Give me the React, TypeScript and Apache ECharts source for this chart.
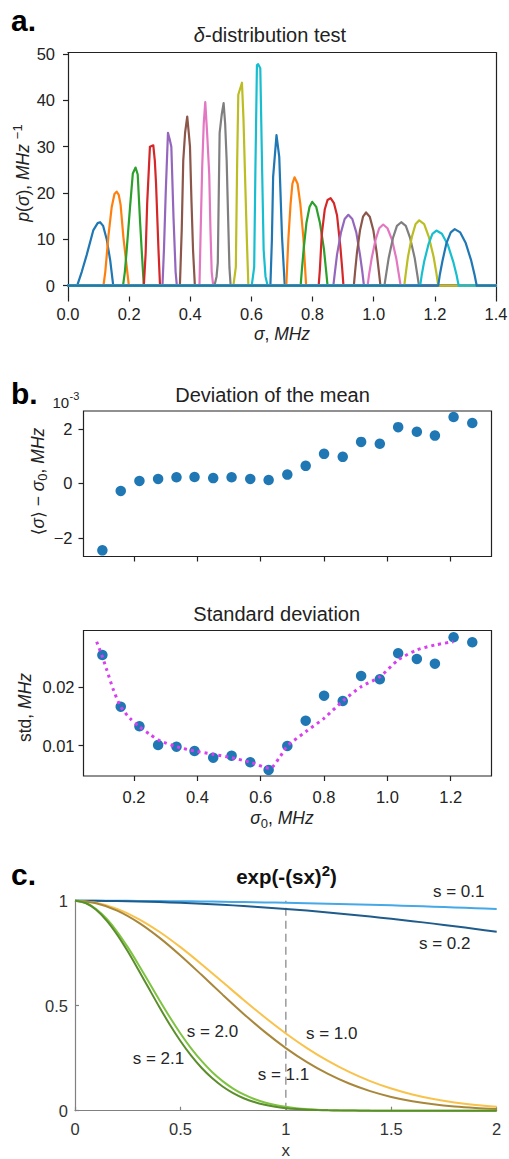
import React, { useEffect, useRef } from "react";
import * as echarts from "echarts";

const FONT = "'Liberation Sans', Arial, 'DejaVu Sans', sans-serif";
const INK = "#222222";
const TAB10 = ["#1f77b4", "#ff7f0e", "#2ca02c", "#d62728", "#9467bd", "#8c564b", "#e377c2", "#7f7f7f", "#bcbd22", "#17becf"];

// ---------- Panel a: delta-distribution test (sigma, density) ----------
const peak01 = [[0.030, 0], [0.045, 3.0], [0.061, 6.6], [0.083, 12.0], [0.097, 13.5], [0.105, 13.7], [0.115, 12.9], [0.127, 9.9], [0.138, 5.5], [0.148, 0]];
const peak02 = [[0.116, 0], [0.122, 3.0], [0.132, 10.6], [0.143, 17.0], [0.152, 19.8], [0.159, 20.3], [0.166, 19.6], [0.172, 17.5], [0.181, 10.6], [0.192, 4.1], [0.199, 0]];
const peak03 = [[0.180, 0], [0.186, 3.0], [0.192, 7.7], [0.203, 17.0], [0.212, 24.2], [0.221, 25.5], [0.228, 24.0], [0.236, 13.5], [0.241, 7.7], [0.248, 0]];
const peak04 = [[0.248, 0], [0.254, 7.0], [0.259, 17.8], [0.268, 30.0], [0.279, 30.3], [0.284, 27.0], [0.288, 22.0], [0.296, 7.7], [0.301, 0]];
const peak05 = [[0.309, 0], [0.314, 8.0], [0.320, 20.7], [0.327, 33.0], [0.333, 31.5], [0.338, 30.0], [0.345, 14.9], [0.352, 3.0], [0.356, 0]];
const peak06 = [[0.366, 0], [0.372, 12.0], [0.377, 27.0], [0.383, 33.0], [0.390, 36.5], [0.395, 33.0], [0.399, 30.0], [0.404, 18.0], [0.409, 7.7], [0.415, 0]];
const peak07 = [[0.430, 0], [0.434, 12.0], [0.439, 25.7], [0.444, 35.0], [0.449, 39.6], [0.455, 33.0], [0.462, 24.0], [0.466, 12.0], [0.470, 3.0], [0.475, 0]];
const peak08 = [[0.479, 0], [0.486, 2.0], [0.490, 5.0], [0.496, 33.0], [0.503, 37.0], [0.509, 39.4], [0.514, 35.0], [0.519, 27.0], [0.524, 14.0], [0.528, 4.0], [0.532, 0]];
const peak09 = [[0.541, 0], [0.549, 4.0], [0.553, 25.0], [0.557, 41.2], [0.569, 43.8], [0.574, 36.0], [0.579, 24.0], [0.585, 10.0], [0.590, 0]];
const peak10 = [[0.601, 0], [0.609, 4.0], [0.613, 25.0], [0.618, 47.6], [0.622, 47.8], [0.629, 46.9], [0.635, 25.0], [0.640, 7.7], [0.646, 2.0], [0.653, 0]];
const peak11 = [[0.662, 0], [0.667, 10.0], [0.671, 23.5], [0.682, 32.5], [0.691, 27.8], [0.700, 10.6], [0.709, 0]];
const peak12 = [[0.714, 0], [0.717, 4.4], [0.721, 10.3], [0.728, 17.6], [0.734, 22.0], [0.741, 23.4], [0.751, 22.0], [0.760, 17.6], [0.770, 10.3], [0.775, 4.4], [0.779, 0]];
const peak13 = [[0.761, 0], [0.765, 3.4], [0.771, 8.0], [0.780, 13.6], [0.790, 17.0], [0.799, 18.1], [0.812, 17.0], [0.824, 13.6], [0.837, 8.0], [0.844, 3.4], [0.849, 0]];
const peak14 = [[0.820, 0], [0.824, 3.6], [0.830, 11.0], [0.840, 16.5], [0.849, 18.5], [0.859, 18.9], [0.870, 17.8], [0.880, 15.2], [0.891, 8.3], [0.897, 3.6], [0.901, 0]];
const peak15 = [[0.868, 0], [0.873, 2.9], [0.880, 6.7], [0.893, 11.5], [0.905, 14.4], [0.917, 15.3], [0.930, 14.4], [0.943, 11.5], [0.955, 6.7], [0.963, 2.9], [0.968, 0]];
const peak16 = [[0.935, 0], [0.939, 3.0], [0.945, 7.0], [0.955, 11.9], [0.965, 14.9], [0.975, 15.8], [0.987, 14.9], [0.999, 11.9], [1.010, 7.0], [1.017, 3.0], [1.022, 0]];
const peak17 = [[0.980, 0], [0.985, 2.5], [0.993, 5.8], [1.006, 9.9], [1.018, 12.4], [1.031, 13.2], [1.045, 12.4], [1.060, 9.9], [1.074, 5.8], [1.082, 2.5], [1.088, 0]];
const peak18 = [[1.035, 0], [1.041, 2.6], [1.049, 6.0], [1.063, 10.3], [1.076, 12.9], [1.090, 13.7], [1.105, 12.9], [1.119, 10.3], [1.134, 6.0], [1.142, 2.6], [1.148, 0]];
const peak19 = [[1.100, 0], [1.105, 2.7], [1.112, 6.2], [1.125, 10.6], [1.137, 13.3], [1.149, 14.1], [1.165, 13.3], [1.180, 10.6], [1.196, 6.2], [1.205, 2.7], [1.211, 0]];
const peak20 = [[1.152, 0], [1.157, 2.3], [1.165, 5.2], [1.179, 8.9], [1.192, 11.2], [1.205, 11.9], [1.223, 11.2], [1.242, 8.9], [1.260, 5.2], [1.271, 2.3], [1.278, 0]];
const peak21 = [[1.211, 0], [1.216, 2.3], [1.225, 5.4], [1.238, 9.2], [1.252, 11.5], [1.265, 12.2], [1.283, 11.5], [1.301, 9.2], [1.319, 5.4], [1.330, 2.3], [1.337, 0]];
const deltaPeaks = [peak01, peak02, peak03, peak04, peak05, peak06, peak07, peak08, peak09, peak10, peak11, peak12, peak13, peak14, peak15, peak16, peak17, peak18, peak19, peak20, peak21];
const sigmaRange = [0, 1.4];
const aSigmaTicks = [0, 0.2, 0.4, 0.6, 0.8, 1.0, 1.2, 1.4];
const aDensityTicks = [0, 10, 20, 30, 40, 50];

// ---------- Panel b: deviation of the mean / standard deviation ----------
const sigma0 = [0.100, 0.158, 0.217, 0.276, 0.334, 0.391, 0.450, 0.508, 0.567, 0.625, 0.684, 0.742, 0.800, 0.859, 0.917, 0.976, 1.034, 1.093, 1.150, 1.209, 1.268];
const meanDeviationE3 = [-2.46, -0.28, 0.085, 0.16, 0.22, 0.23, 0.19, 0.22, 0.16, 0.12, 0.32, 0.64, 1.08, 0.97, 1.52, 1.45, 2.06, 1.89, 1.75, 2.43, 2.21];
const stdDeviation = [0.02553, 0.01668, 0.01332, 0.01012, 0.00983, 0.00909, 0.00795, 0.00829, 0.00716, 0.00584, 0.00995, 0.01428, 0.01856, 0.01765, 0.02194, 0.02137, 0.02582, 0.02485, 0.02404, 0.02856, 0.02771];
const stdFitSigma = [0.082, 0.098, 0.114, 0.135, 0.158, 0.187, 0.217, 0.250, 0.282, 0.334, 0.391, 0.450, 0.508, 0.567, 0.629, 0.661, 0.684, 0.742, 0.800, 0.859, 0.917, 0.976, 1.034, 1.093, 1.150, 1.208];
const stdFitValue = [0.0278, 0.02553, 0.02296, 0.01954, 0.01668, 0.01469, 0.01325, 0.01195, 0.01086, 0.00983, 0.00909, 0.00853, 0.00795, 0.00716, 0.00613, 0.00812, 0.00995, 0.0124, 0.01469, 0.01765, 0.0201, 0.0218, 0.02468, 0.02639, 0.02724, 0.0278];
const sigma0Ticks = [0.2, 0.4, 0.6, 0.8, 1.0, 1.2];
const meanTicks = [-2, 0, 2];
const stdTicks = [0.01, 0.02];

// ---------- Panel c: exp(-(sx)^2) ----------
const gaussX = [0, 0.1, 0.2, 0.3, 0.4, 0.5, 0.6, 0.7, 0.8, 0.9, 1.0, 1.1, 1.2, 1.3, 1.4, 1.5, 1.6, 1.7, 1.8, 1.9, 2.0];
const gaussXFine = [0, 0.05, 0.1, 0.15, 0.2, 0.25, 0.3, 0.35, 0.4, 0.45, 0.5, 0.55, 0.6, 0.65, 0.7, 0.75, 0.8, 0.85, 0.9, 0.95, 1.0, 1.05, 1.1, 1.15, 1.2, 1.25, 1.3, 1.35, 1.4, 1.45, 1.5, 1.55, 1.6, 1.65, 1.7, 1.75, 1.8, 1.85, 1.9, 1.95, 2.0];
const gaussS01 = [1, 0.9999, 0.9996, 0.9991, 0.9984, 0.9975, 0.9964, 0.9951, 0.9936, 0.9919, 0.9900, 0.9880, 0.9857, 0.9832, 0.9806, 0.9778, 0.9747, 0.9715, 0.9681, 0.9645, 0.9608];
const gaussS02 = [1, 0.9996, 0.9984, 0.9964, 0.9936, 0.9900, 0.9857, 0.9806, 0.9747, 0.9681, 0.9608, 0.9528, 0.9440, 0.9346, 0.9246, 0.9139, 0.9027, 0.8908, 0.8784, 0.8655, 0.8521];
const gaussS10 = [1, 0.9900, 0.9608, 0.9139, 0.8521, 0.7788, 0.6977, 0.6126, 0.5273, 0.4449, 0.3679, 0.2982, 0.2369, 0.1845, 0.1409, 0.1054, 0.0773, 0.0556, 0.0392, 0.0271, 0.0183];
const gaussS11 = [1, 0.9880, 0.9528, 0.8968, 0.8240, 0.7390, 0.6469, 0.5527, 0.4610, 0.3753, 0.2982, 0.2313, 0.1751, 0.1294, 0.0933, 0.0657, 0.0452, 0.0303, 0.0198, 0.0127, 0.0079];
const gaussS20 = [1, 0.9900, 0.9608, 0.9139, 0.8521, 0.7788, 0.6977, 0.6126, 0.5273, 0.4449, 0.3679, 0.2982, 0.2369, 0.1845, 0.1409, 0.1054, 0.0773, 0.0556, 0.0392, 0.0271, 0.0183, 0.0122, 0.0079, 0.0050, 0.0032, 0.0019, 0.0012, 0.0007, 0.0004, 0.0002, 0.0001, 0, 0, 0, 0, 0, 0, 0, 0, 0, 0];
const gaussS21 = [1, 0.9890, 0.9569, 0.9055, 0.8383, 0.7591, 0.6724, 0.5826, 0.4938, 0.4094, 0.3321, 0.2634, 0.2044, 0.1552, 0.1152, 0.0837, 0.0595, 0.0413, 0.0281, 0.0187, 0.0122, 0.0077, 0.0048, 0.0029, 0.0017, 0.0010, 0.0006, 0.0003, 0.0002, 0.0001, 0, 0, 0, 0, 0, 0, 0, 0, 0, 0, 0];
const gaussNames = ["s = 0.1", "s = 0.2", "s = 1.0", "s = 1.1", "s = 2.0", "s = 2.1"];
const gaussXTicks = [0, 0.5, 1, 1.5, 2];
const gaussYTicks = [0, 0.5, 1];
const dashedAt = [[1, 0], [1, 1]];

const GAUSS_COLORS = ["#45a8e8", "#1f5c8c", "#f9c24b", "#a8873b", "#7fc342", "#5a8e2b"];

function richSet(size: number, color: string) {
  return {
    n: { fontSize: size, fontFamily: FONT, fill: color, color, lineHeight: size + 6 },
    i: { fontSize: size, fontFamily: FONT, fontStyle: "italic", fill: color, color, lineHeight: size + 6 },
    b: { fontSize: size, fontFamily: FONT, fontWeight: "bold", fill: color, color, lineHeight: size + 6 },
    sup: { fontSize: Math.round(size * 0.72), fontFamily: FONT, fill: color, color, lineHeight: 10, verticalAlign: "top" },
    bsup: { fontSize: Math.round(size * 0.72), fontFamily: FONT, fontWeight: "bold", fill: color, color, lineHeight: 14, verticalAlign: "top" },
    sub: { fontSize: Math.round(size * 0.72), fontFamily: FONT, fill: color, color, lineHeight: 14, verticalAlign: "bottom" },
  };
}

function txt(x: number, y: number, text: string, o: any = {}) {
  const size = o.size || 16.5;
  const color = o.color || INK;
  const align = o.align || "center";
  return {
    type: "text",
    x,
    y,
    rotation: o.rotation || 0,
    z: 100,
    silent: true,
    style: {
      text,
      fill: color,
      fontSize: size,
      fontFamily: FONT,
      fontWeight: o.weight || "normal",
      fontStyle: o.fontStyle || "normal",
      align,
      textAlign: align,
      verticalAlign: "middle",
      textVerticalAlign: "middle",
      rich: richSet(size, color),
    },
  };
}

const hidden = { show: false };

function tickAxis(extra: any) {
  return {
    type: "value",
    splitLine: hidden,
    ...extra,
  };
}

export default function App() {
  const ref = useRef<HTMLDivElement>(null);

  useEffect(() => {
    if (!ref.current) return;
    const chart = echarts.init(ref.current, undefined, { renderer: "svg" });

    const labelBase = { fontFamily: FONT, color: INK, fontSize: 16.5 };
    const tickBase = { lineStyle: { color: INK, width: 1.2 } };
    const minusFmt = (v: number) => (v < 0 ? "\u2212" + Math.abs(v) : String(v));

    const gaussSets = [
      { xs: gaussX, ys: gaussS01 },
      { xs: gaussX, ys: gaussS02 },
      { xs: gaussX, ys: gaussS10 },
      { xs: gaussX, ys: gaussS11 },
      { xs: gaussXFine, ys: gaussS20 },
      { xs: gaussXFine, ys: gaussS21 },
    ];

    const option: any = {
      animation: false,
      backgroundColor: "#ffffff",
      grid: [
        { left: 68, top: 52.5, width: 428, height: 244, show: false, outerBoundsMode: "none" },
        { left: 83.5, top: 411, width: 408, height: 145.5, show: true, borderColor: INK, borderWidth: 1.2, backgroundColor: "transparent", outerBoundsMode: "none" },
        { left: 83.5, top: 630.5, width: 408, height: 145.5, show: true, borderColor: INK, borderWidth: 1.2, backgroundColor: "transparent", outerBoundsMode: "none" },
        { left: 75, top: 900.7, width: 421.7, height: 210, show: false, outerBoundsMode: "none" },
      ],
      xAxis: [
        tickAxis({
          gridIndex: 0, min: sigmaRange[0], max: sigmaRange[1], position: "bottom",
          axisLine: { show: false, onZero: false },
          axisTick: { show: true, length: 5, customValues: aSigmaTicks, ...tickBase },
          axisLabel: { show: true, customValues: aSigmaTicks, formatter: (v: number) => v.toFixed(1), margin: 9, ...labelBase },
        }),
        tickAxis({
          gridIndex: 0, min: sigmaRange[0], max: sigmaRange[1], position: "top",
          axisLine: { show: true, onZero: false, lineStyle: { color: INK, width: 1.2 } },
          axisTick: hidden, axisLabel: hidden,
        }),
        tickAxis({
          gridIndex: 1, min: 0.0404, max: 1.3287, position: "bottom",
          axisLine: { show: false, onZero: false },
          axisTick: { show: true, length: 5, customValues: sigma0Ticks, ...tickBase },
          axisLabel: hidden,
        }),
        tickAxis({
          gridIndex: 2, min: 0.0404, max: 1.3287, position: "bottom",
          axisLine: { show: false, onZero: false },
          axisTick: { show: true, length: 5, customValues: sigma0Ticks, ...tickBase },
          axisLabel: { show: true, customValues: sigma0Ticks, formatter: (v: number) => v.toFixed(1), margin: 12, ...labelBase },
        }),
        tickAxis({
          gridIndex: 3, min: 0, max: 2, position: "bottom",
          axisLine: { show: true, onZero: false, lineStyle: { color: "#808080", width: 1.2 } },
          axisTick: { show: true, inside: true, length: 4, customValues: gaussXTicks, lineStyle: { color: "#808080", width: 1.2 } },
          axisLabel: { show: true, customValues: gaussXTicks, formatter: (v: number) => String(v), margin: 10, fontFamily: FONT, fontSize: 16.5, color: "#333333" },
        }),
      ],
      yAxis: [
        tickAxis({
          gridIndex: 0, min: -2.33, max: 50.32, position: "left",
          axisLine: { show: true, onZero: false, lineStyle: { color: INK, width: 1.2 } },
          axisTick: { show: true, length: 5, customValues: aDensityTicks, ...tickBase },
          axisLabel: { show: true, customValues: aDensityTicks, margin: 13, ...labelBase },
        }),
        tickAxis({
          gridIndex: 0, min: -2.33, max: 50.32, position: "right",
          axisLine: { show: true, onZero: false, lineStyle: { color: INK, width: 1.2 } },
          axisTick: hidden, axisLabel: hidden,
        }),
        tickAxis({
          gridIndex: 1, min: -2.686, max: 2.653, position: "left",
          axisLine: { show: false, onZero: false },
          axisTick: { show: true, length: 5, customValues: meanTicks, ...tickBase },
          axisLabel: { show: true, customValues: meanTicks, formatter: minusFmt, margin: 11, ...labelBase },
        }),
        tickAxis({
          gridIndex: 2, min: 0.004812, max: 0.029726, position: "left",
          axisLine: { show: false, onZero: false },
          axisTick: { show: true, length: 5, customValues: stdTicks, ...tickBase },
          axisLabel: { show: true, customValues: stdTicks, formatter: (v: number) => v.toFixed(2), margin: 9, ...labelBase },
        }),
        tickAxis({
          gridIndex: 3, min: 0, max: 1, position: "left",
          axisLine: { show: true, onZero: false, lineStyle: { color: "#808080", width: 1.2 } },
          axisTick: { show: true, inside: true, length: 4, customValues: gaussYTicks, lineStyle: { color: "#808080", width: 1.2 } },
          axisLabel: { show: true, customValues: gaussYTicks, formatter: (v: number) => String(v), margin: 7, fontFamily: FONT, fontSize: 16.5, color: "#333333" },
        }),
      ],
      series: [
        ...deltaPeaks.map((pk, i) => ({
          type: "line",
          xAxisIndex: 0,
          yAxisIndex: 0,
          data: [[sigmaRange[0], 0], ...pk, [sigmaRange[1], 0]],
          showSymbol: false,
          symbol: "none",
          silent: true,
          clip: false,
          z: 2,
          lineStyle: { color: TAB10[i % 10], width: 2.2, join: "round", cap: "round" },
          itemStyle: { color: TAB10[i % 10] },
        })),
        {
          type: "scatter",
          xAxisIndex: 2,
          yAxisIndex: 2,
          data: sigma0.map((s, i) => [s, meanDeviationE3[i]]),
          symbolSize: 10.5,
          itemStyle: { color: "#1f77b4", opacity: 1 },
          silent: true,
          z: 3,
        },
        {
          type: "scatter",
          xAxisIndex: 3,
          yAxisIndex: 3,
          data: sigma0.map((s, i) => [s, stdDeviation[i]]),
          symbolSize: 10.5,
          itemStyle: { color: "#1f77b4", opacity: 1 },
          silent: true,
          z: 3,
        },
        {
          type: "line",
          xAxisIndex: 3,
          yAxisIndex: 3,
          data: stdFitSigma.map((s, i) => [s, stdFitValue[i]]),
          smooth: 0.25,
          showSymbol: false,
          symbol: "none",
          silent: true,
          clip: false,
          z: 4,
          lineStyle: { color: "#d83ff0", width: 3, type: [3, 4], cap: "butt" },
        },
        {
          type: "line",
          xAxisIndex: 4,
          yAxisIndex: 4,
          data: dashedAt,
          showSymbol: false,
          symbol: "none",
          silent: true,
          z: 2,
          lineStyle: { color: "#8a8a8a", width: 1.3, type: [8, 5] },
        },
        ...gaussSets.map((g, k) => ({
          type: "line",
          name: gaussNames[k],
          xAxisIndex: 4,
          yAxisIndex: 4,
          data: g.xs.map((x, i) => [x, g.ys[i]]),
          smooth: 0.3,
          showSymbol: false,
          symbol: "none",
          silent: true,
          clip: false,
          z: 3,
          lineStyle: { color: GAUSS_COLORS[k], width: 2 },
        })),
      ],
      graphic: [
        // panel letters
        txt(11, 20.7, "a.", { size: 30, weight: "bold", align: "left", color: "#000" }),
        txt(11, 393.5, "b.", { size: 30, weight: "bold", align: "left", color: "#000" }),
        txt(11, 874, "c.", { size: 30, weight: "bold", align: "left", color: "#000" }),
        // panel a
        txt(270, 34.8, "{i|δ}{n|-distribution test}", { size: 20 }),
        txt(282, 334, "{i|σ}{n|, }{i|MHz}", { size: 17.5 }),
        txt(22.5, 173, "{i|p}{n|(}{i|σ}{n|), }{i|MHz}{n| }{sup|−1}", { size: 17.5, rotation: Math.PI / 2 }),
        // panel b (mean)
        txt(272.5, 394.8, "Deviation of the mean", { size: 20 }),
        txt(52.5, 402.5, "10", { size: 15, align: "left" }),
        txt(69.5, 396, "-3", { size: 11, align: "left" }),
        txt(37.5, 481.5, "{n|⟨}{i|σ}{n|⟩ − }{i|σ}{sub|0}{n|, }{i|MHz}", { size: 17.5, rotation: Math.PI / 2 }),
        // panel b (std)
        txt(276.7, 613.8, "Standard deviation", { size: 20 }),
        txt(25, 707.5, "{n|std, }{i|MHz}", { size: 17.5, rotation: Math.PI / 2 }),
        txt(282, 818, "{i|σ}{sub|0}{n|, }{i|MHz}", { size: 17.5 }),
        // panel c
        txt(286.5, 876.4, "{b|exp(-(sx)}{bsup|2}{b|)}", { size: 20.5, color: "#111" }),
        txt(285.7, 1150, "x", { size: 17, color: "#333333" }),
        txt(433, 891.5, gaussNames[0], { size: 17, align: "left", color: "#262626" }),
        txt(419, 943, gaussNames[1], { size: 17, align: "left", color: "#262626" }),
        txt(306, 1033, gaussNames[2], { size: 17, align: "left", color: "#262626" }),
        txt(257.7, 1074, gaussNames[3], { size: 17, align: "left", color: "#262626" }),
        txt(186.7, 1031, gaussNames[4], { size: 17, align: "left", color: "#262626" }),
        txt(132.7, 1058, gaussNames[5], { size: 17, align: "left", color: "#262626" }),
      ],
    };

    chart.setOption(option);
    return () => {
      chart.dispose();
    };
  }, []);

  return (
    <div
      ref={ref}
      style={{ position: "absolute", left: 0, top: 0, width: 509, height: 1159, background: "#fff" }}
    />
  );
}
